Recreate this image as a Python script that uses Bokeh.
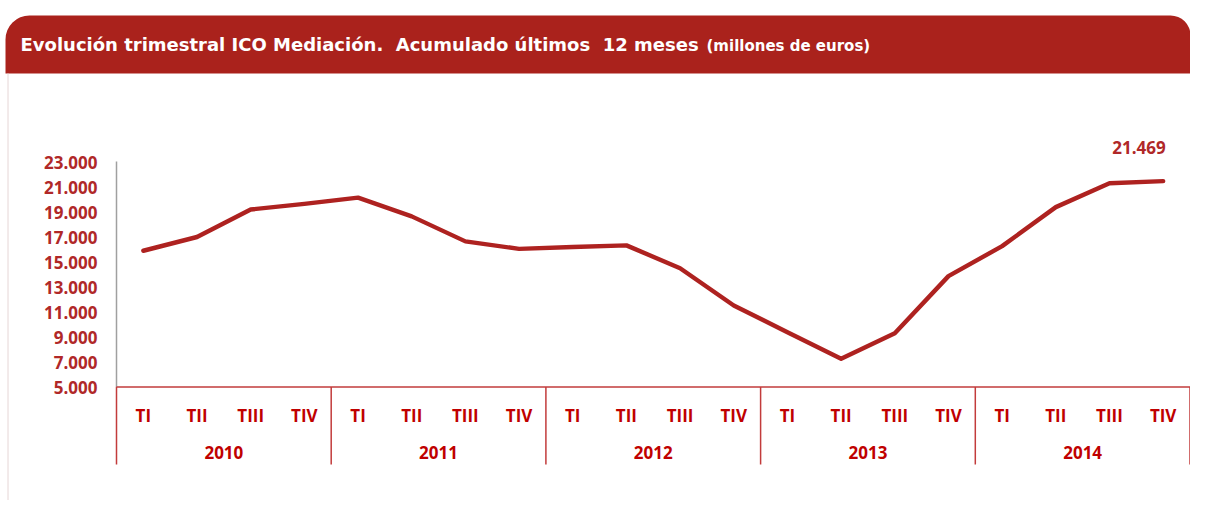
from bokeh.plotting import figure
from bokeh.models import Range1d, ColumnDataSource
from bokeh.core.properties import value
from bokeh.embed import file_html
from bokeh.resources import INLINE

# ---------------- data ----------------
years = ["2010", "2011", "2012", "2013", "2014"]
quarters = ["TI", "TII", "TIII", "TIV"]
values = [15900, 17000, 19200, 19650,
          20150, 18650, 16650, 16050,
          16200, 16330, 14500, 11520,
          9380, 7260, 9300, 13870,
          16270, 19390, 21300, 21469]
y_ticks = [5000, 7000, 9000, 11000, 13000, 15000, 17000, 19000, 21000, 23000]
last_label = "21.469"
title_main = "Evolución trimestral ICO Mediación.\u00a0 Acumulado últimos\u00a0 12 meses"
title_unit = "(millones de euros)"

# ---------------- layout helpers (pixel -> data) ----------------
W, H = 1190, 500
X0_PX = 116           # px of first category's left edge
BAND = (1189.5 - X0_PX) / 20   # px per quarter
Y5000_PX = 386.5      # px of value 5000
PER_PX = 80.0         # value units per px


def px_x(rx):
    return (rx - X0_PX) / BAND


def px_y(ry):
    return 5000 + (Y5000_PX - ry) * PER_PX


p = figure(width=W, height=H, output_backend="svg", toolbar_location=None,
           x_range=Range1d(px_x(0), px_x(W)),
           y_range=Range1d(px_y(H), px_y(0)),
           x_axis_location=None, y_axis_location=None,
           min_border=0, outline_line_color=None)
p.grid.visible = False
p.background_fill_color = "white"
p.border_fill_color = "white"

RED_BAR = "#AA221C"
RED_LINE = "#AE2220"
RED_YLAB = "#B02828"
RED_XLAB = "#C00000"
RED_BOX = "#C23B3B"
FONT = value("Open Sans")

# title bar
p.quad(left=[px_x(5)], right=[px_x(W)], top=[px_y(15)], bottom=[px_y(73)],
       fill_color=RED_BAR, line_color=None, border_radius=(24, 20, 0, 0))
# faint panel edge
p.segment(x0=[px_x(7.5)], y0=[px_y(73)], x1=[px_x(7.5)], y1=[px_y(H)],
          line_color="#E6D6D6", line_width=1)

p.text(x=[px_x(20)], y=[px_y(44)], text=[title_main],
       text_font=value("DejaVu Sans"), text_font_style="bold",
       text_font_size="18px", text_color="white",
       text_align="left", text_baseline="middle")
p.text(x=[px_x(706)], y=[px_y(45)], text=[title_unit],
       text_font=value("DejaVu Sans"), text_font_style="bold",
       text_font_size="15px", text_color="white",
       text_align="left", text_baseline="middle")

# y axis line
p.segment(x0=[0], y0=[y_ticks[-1] + 50], x1=[0], y1=[y_ticks[0]],
          line_color="#A0A0A0", line_width=1.5)

# y tick labels
ylabels = [f"{v:,}".replace(",", ".") for v in y_ticks]
p.text(x=[px_x(97)] * len(y_ticks), y=y_ticks, text=ylabels,
       text_font=FONT, text_font_style="bold", text_font_size="17px",
       text_color=RED_YLAB, text_align="right", text_baseline="middle")

# category box
n = len(years) * len(quarters)
bottom_box = px_y(464)
p.segment(x0=[0], y0=[y_ticks[0]], x1=[n], y1=[y_ticks[0]],
          line_color=RED_BOX, line_width=1.5)
seps = list(range(0, n + 1, len(quarters)))
p.segment(x0=seps, y0=[y_ticks[0]] * len(seps), x1=seps, y1=[bottom_box] * len(seps),
          line_color=RED_BOX, line_width=1.5)

# quarter labels
qx = [i + 0.5 for i in range(n)]
qt = [quarters[i % len(quarters)] for i in range(n)]
p.text(x=qx, y=[px_y(415)] * n, text=qt,
       text_font=FONT, text_font_style="bold", text_font_size="17px",
       text_color=RED_XLAB, text_align="center", text_baseline="middle")
# year labels
yx = [k * len(quarters) + len(quarters) / 2 for k in range(len(years))]
p.text(x=yx, y=[px_y(452)] * len(years), text=years,
       text_font=FONT, text_font_style="bold", text_font_size="17px",
       text_color=RED_XLAB, text_align="center", text_baseline="middle")

# data line
src = ColumnDataSource(dict(x=qx, y=values))
p.line("x", "y", source=src, line_color=RED_LINE, line_width=4.4,
       line_cap="round", line_join="round")

# last value label
p.text(x=[qx[-1] - 0.45], y=[values[-1] + 34 * PER_PX], text=[last_label],
       text_font=FONT, text_font_style="bold", text_font_size="17px",
       text_color=RED_YLAB, text_align="center", text_baseline="middle")

open("out.html", "w").write(file_html(p, INLINE))
